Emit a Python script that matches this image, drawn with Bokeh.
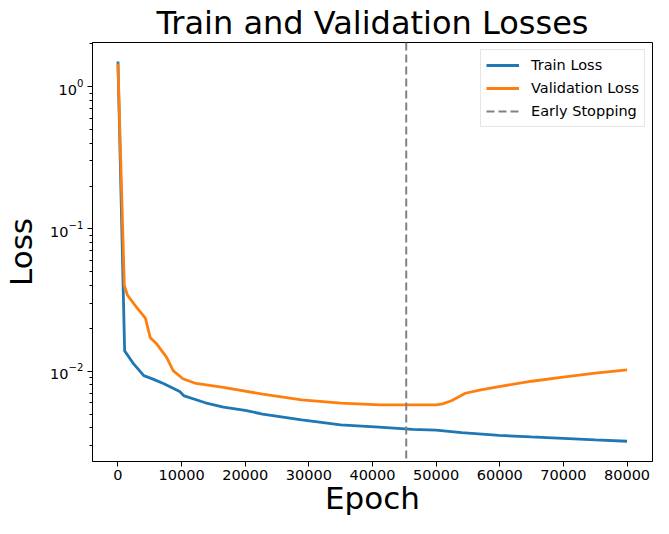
from bokeh.plotting import figure
from bokeh.models import (Range1d, FixedTicker, NumeralTickFormatter, Span,
                          LogTickFormatter)
from bokeh.embed import file_html
from bokeh.resources import INLINE

FONT = "DejaVu Sans"

# ---- data ----
train_epochs = [0, 1050, 2500, 4060, 5500, 7140, 9700, 10400, 13740, 16570, 20000,
                22720, 28880, 35000, 41000, 46300, 49970, 54000, 59900, 64900,
                69950, 75000, 80000]
train_loss = [1.50, 0.0139, 0.0112, 0.0093, 0.0088, 0.0082, 0.0072, 0.0067, 0.0060,
              0.0056, 0.0053, 0.0050, 0.00455, 0.0042, 0.00405, 0.0039, 0.00385,
              0.00370, 0.00354, 0.00345, 0.00337, 0.00329, 0.00322]

valid_epochs = [0, 1000, 1490, 3030, 4310, 5080, 6110, 7650, 8670, 10200, 12260,
                16570, 22720, 28880, 35030, 41180, 46310, 50000, 51000, 52400,
                54600, 57000, 59900, 65000, 69950, 75000, 80000]
valid_loss = [1.45, 0.040, 0.0342, 0.0277, 0.0236, 0.0172, 0.0155, 0.0125, 0.0101,
              0.00885, 0.0082, 0.0077, 0.0069, 0.00628, 0.00596, 0.0058, 0.0058,
              0.0058, 0.0059, 0.0062, 0.0070, 0.0074, 0.0078, 0.0085, 0.0091,
              0.0097, 0.0102]

early_stop_epoch = 45300
x_ticks = [0, 10000, 20000, 30000, 40000, 50000, 60000, 70000, 80000]
y_major_ticks = [0.01, 0.1, 1.0]
y_minor_ticks = [m * d for d in [0.001, 0.01, 0.1, 1.0] for m in range(2, 10)]

p = figure(width=653, height=518, y_axis_type="log",
           output_backend="svg", toolbar_location=None,
           x_range=Range1d(-4000, 84000), y_range=Range1d(0.00232, 2.04),
           min_border_left=87, min_border_right=1, min_border_top=35,
           min_border_bottom=40)

p.title.text = "Train and Validation Losses"
p.title.align = "center"
p.title.text_font = FONT
p.title.text_font_size = "32px"
p.title.text_font_style = "normal"
p.title.text_color = "black"
p.title.standoff = 2

p.line(train_epochs, train_loss, line_color="#1f77b4", line_width=2.8,
       legend_label="Train Loss")
p.line(valid_epochs, valid_loss, line_color="#ff7f0e", line_width=2.8,
       legend_label="Validation Loss")

span = Span(location=early_stop_epoch, dimension="height", line_color="#808080",
            line_width=2, line_dash="8 4")
p.add_layout(span)
# legend entry for the early stopping marker (not drawn in the plot itself)
p.line([early_stop_epoch], [float("nan")], line_color="#808080", line_width=2,
       line_dash="8 4", legend_label="Early Stopping")

p.xgrid.grid_line_color = None
p.ygrid.grid_line_color = None
p.outline_line_color = "black"
p.outline_line_width = 1
p.outline_line_alpha = 1
p.background_fill_color = "white"
p.border_fill_color = "white"

for ax in (p.xaxis[0], p.yaxis[0]):
    ax.axis_line_color = "black"
    ax.major_tick_in = 0
    ax.major_tick_out = 5
    ax.minor_tick_in = 0
    ax.minor_tick_out = 3
    ax.major_tick_line_color = "black"
    ax.minor_tick_line_color = "black"
    ax.major_label_text_font = FONT
    ax.major_label_text_font_size = "14.5px"
    ax.major_label_text_color = "black"
    ax.axis_label_text_font = FONT
    ax.axis_label_text_font_size = "31px"
    ax.axis_label_text_font_style = "normal"
    ax.axis_label_text_color = "black"

p.xaxis.axis_label = "Epoch"
p.yaxis.axis_label = "Loss"
p.xaxis.ticker = FixedTicker(ticks=x_ticks)
p.xaxis.formatter = NumeralTickFormatter(format="0")
p.xaxis.minor_tick_line_color = None
p.xaxis.major_label_standoff = 3
p.xaxis.axis_label_standoff = -3
p.yaxis.ticker = FixedTicker(ticks=y_major_ticks, minor_ticks=y_minor_ticks)
p.yaxis.formatter = LogTickFormatter()
p.yaxis.major_label_standoff = 4
p.yaxis.axis_label_standoff = 8

lg = p.legend[0]
lg.location = "top_right"
lg.margin = 7
lg.padding = 5
lg.spacing = 3
lg.glyph_width = 33
lg.glyph_height = 20
lg.label_standoff = 12
lg.label_text_font = FONT
lg.label_text_font_size = "14.5px"
lg.label_text_color = "black"
lg.border_line_color = "#cccccc"
lg.border_line_width = 1
lg.background_fill_alpha = 0.8

open("out.html", "w").write(file_html(p, INLINE))
